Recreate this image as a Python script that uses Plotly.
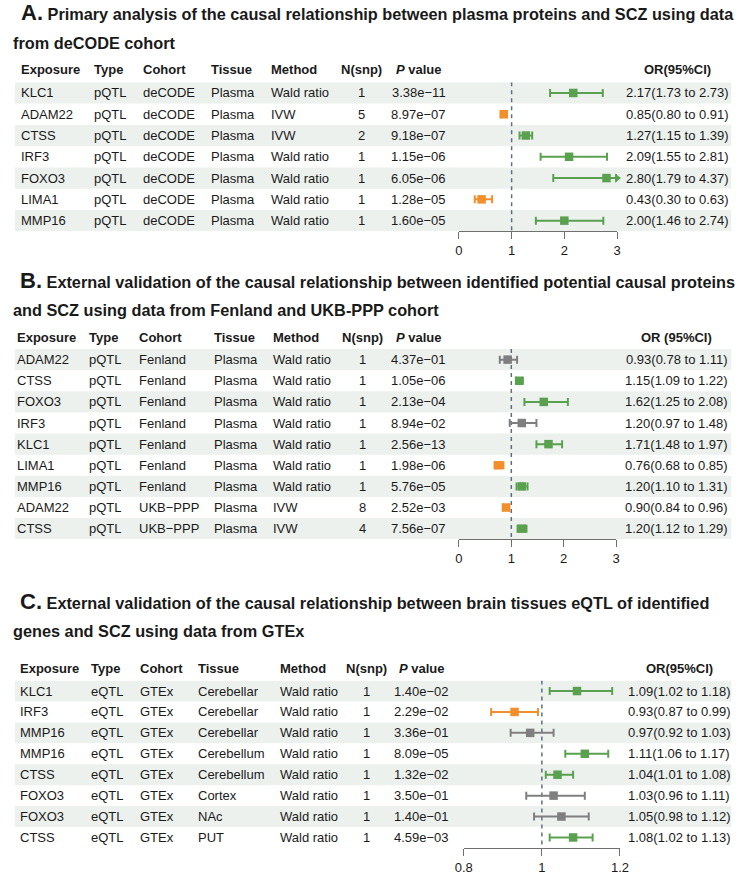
import plotly.graph_objects as go

W, H = 749, 875
FONT = "Arial, 'Liberation Sans', Helvetica, sans-serif"
GREEN, ORANGE, GREY = "#59A14F", "#F28E2B", "#7F7F7F"
BAND = "#EDF1EE"
TXT = "#1a1a1a"

# ---------------- Panel A data ----------------
a_exposure = ["KLC1", "ADAM22", "CTSS", "IRF3", "FOXO3", "LIMA1", "MMP16"]
a_type = ["pQTL"] * 7
a_cohort = ["deCODE"] * 7
a_tissue = ["Plasma"] * 7
a_method = ["Wald ratio", "IVW", "IVW", "Wald ratio", "Wald ratio", "Wald ratio", "Wald ratio"]
a_nsnp = [1, 5, 2, 1, 1, 1, 1]
a_pval = ["3.38e−11", "8.97e−07", "9.18e−07", "1.15e−06", "6.05e−06", "1.28e−05", "1.60e−05"]
a_or = [2.17, 0.85, 1.27, 2.09, 2.80, 0.43, 2.00]
a_lo = [1.73, 0.80, 1.15, 1.55, 1.79, 0.30, 1.46]
a_hi = [2.73, 0.91, 1.39, 2.81, 4.37, 0.63, 2.74]

# ---------------- Panel B data ----------------
b_exposure = ["ADAM22", "CTSS", "FOXO3", "IRF3", "KLC1", "LIMA1", "MMP16", "ADAM22", "CTSS"]
b_type = ["pQTL"] * 9
b_cohort = ["Fenland"] * 7 + ["UKB−PPP"] * 2
b_tissue = ["Plasma"] * 9
b_method = ["Wald ratio"] * 7 + ["IVW", "IVW"]
b_nsnp = [1, 1, 1, 1, 1, 1, 1, 8, 4]
b_pval = ["4.37e−01", "1.05e−06", "2.13e−04", "8.94e−02", "2.56e−13", "1.98e−06", "5.76e−05", "2.52e−03", "7.56e−07"]
b_or = [0.93, 1.15, 1.62, 1.20, 1.71, 0.76, 1.20, 0.90, 1.20]
b_lo = [0.78, 1.09, 1.25, 0.97, 1.48, 0.68, 1.10, 0.84, 1.12]
b_hi = [1.11, 1.22, 2.08, 1.48, 1.97, 0.85, 1.31, 0.96, 1.29]

# ---------------- Panel C data ----------------
c_exposure = ["KLC1", "IRF3", "MMP16", "MMP16", "CTSS", "FOXO3", "FOXO3", "CTSS"]
c_type = ["eQTL"] * 8
c_cohort = ["GTEx"] * 8
c_tissue = ["Cerebellar", "Cerebellar", "Cerebellar", "Cerebellum", "Cerebellum", "Cortex", "NAc", "PUT"]
c_method = ["Wald ratio"] * 8
c_nsnp = [1] * 8
c_pval = ["1.40e−02", "2.29e−02", "3.36e−01", "8.09e−05", "1.32e−02", "3.50e−01", "1.40e−01", "4.59e−03"]
c_or = [1.09, 0.93, 0.97, 1.11, 1.04, 1.03, 1.05, 1.08]
c_lo = [1.02, 0.87, 0.92, 1.06, 1.01, 0.96, 0.98, 1.02]
c_hi = [1.18, 0.99, 1.03, 1.17, 1.08, 1.11, 1.12, 1.13]

a_ticks = [0, 1, 2, 3]
b_ticks = [0, 1, 2, 3]
c_ticks = [0.8, 1.0, 1.2]
c_ticktext = ["0.8", "1", "1.2"]

panels = [
    dict(k="", letter="A.",
         line1="Primary analysis of the causal relationship between plasma proteins and SCZ using data",
         line2="from deCODE cohort", t1=13, t2=43, lx=10, l2x=2,
         rows=dict(exposure=a_exposure, type=a_type, cohort=a_cohort, tissue=a_tissue,
                   method=a_method, nsnp=a_nsnp, pval=a_pval),
         est=a_or, lo=a_lo, hi=a_hi, ticks=a_ticks, ticktext=[str(t) for t in a_ticks],
         row0=93.5, step=21.4, header=70, ax=(461, 623),
         cols=dict(exposure=10, type=85, cohort=135, tissue=205, method=266),
         nsnp_c=361, p_c=420, or_c=685, or_head="OR(95%CI)"),
    dict(k="2", letter="B.",
         line1="External validation of the causal relationship between identified potential causal proteins",
         line2="and SCZ using data from Fenland and UKB-PPP cohort", t1=282, t2=312, lx=9, l2x=2,
         rows=dict(exposure=b_exposure, type=b_type, cohort=b_cohort, tissue=b_tissue,
                   method=b_method, nsnp=b_nsnp, pval=b_pval),
         est=b_or, lo=b_lo, hi=b_hi, ticks=b_ticks, ticktext=[str(t) for t in b_ticks],
         row0=361.7, step=21.25, header=339, ax=(461, 622),
         cols=dict(exposure=6, type=80, cohort=131, tissue=208, method=268),
         nsnp_c=362, p_c=420, or_c=684, or_head="OR (95%CI)"),
    dict(k="3", letter="C.",
         line1="External validation of the causal relationship between brain tissues eQTL of identified",
         line2="genes and SCZ using data from GTEx", t1=605, t2=635, lx=9, l2x=2,
         rows=dict(exposure=c_exposure, type=c_type, cohort=c_cohort, tissue=c_tissue,
                   method=c_method, nsnp=c_nsnp, pval=c_pval),
         est=c_or, lo=c_lo, hi=c_hi, ticks=c_ticks, ticktext=c_ticktext,
         row0=695, step=21.04, header=672, ax=(466, 626),
         cols=dict(exposure=9, type=82, cohort=132, tissue=192, method=276),
         nsnp_c=366, p_c=423, or_c=687, or_head="OR(95%CI)"),
]

headers = dict(exposure="Exposure", type="Type", cohort="Cohort", tissue="Tissue", method="Method")


def px(x):
    return x / W


def py(y):
    return 1 - y / H


def colour(lo, hi):
    if lo > 1:
        return GREEN
    if hi < 1:
        return ORANGE
    return GREY


fig = go.Figure()
annotations = []
shapes = []
layout_axes = {}

for p in panels:
    k = p["k"]
    n = len(p["est"])
    top = p["row0"] - p["step"] / 2
    bottom = p["row0"] + (n - 0.5) * p["step"]
    xmin, xmax = p["ticks"][0], p["ticks"][-1]
    xa, ya = "x" + k, "y" + k
    layout_axes["xaxis" + k] = dict(
        domain=[px(p["ax"][0]), px(p["ax"][1])], range=[xmin, xmax], anchor=ya,
        showgrid=False, zeroline=False, showline=True, linecolor="#6f6f6f", linewidth=1,
        ticks="outside", ticklen=7, tickcolor="#6f6f6f", tickwidth=1,
        tickvals=p["ticks"], ticktext=p["ticktext"],
        tickfont=dict(family=FONT, size=13, color=TXT), fixedrange=True)
    layout_axes["yaxis" + k] = dict(
        domain=[py(bottom), py(top)], range=[n - 0.5, -0.5], anchor=xa,
        visible=False, showgrid=False, zeroline=False, fixedrange=True)

    # row bands
    for i in range(0, n, 2):
        shapes.append(dict(type="rect", xref="paper", yref=ya, x0=px(6), x1=px(740),
                           y0=i - 0.5, y1=i + 0.5, fillcolor=BAND, line=dict(width=0),
                           layer="below"))
    # reference line
    shapes.append(dict(type="line", xref=xa, yref=ya, x0=1, x1=1, y0=-0.5, y1=n - 0.5,
                       line=dict(color="#5f6f80", width=1.5, dash="4px,4px"), layer="below"))

    # titles
    annotations.append(dict(xref="paper", yref="paper", x=px(p["lx"]), y=py(p["t1"]),
                            xanchor="left", yanchor="middle", showarrow=False,
                            text="<b><span style='font-size:22px'>" + p["letter"] + "</span> "
                                 + p["line1"] + "</b>",
                            font=dict(family=FONT, size=16.3, color=TXT)))
    annotations.append(dict(xref="paper", yref="paper", x=px(p["l2x"]), y=py(p["t2"]),
                            xanchor="left", yanchor="middle", showarrow=False,
                            text="<b>" + p["line2"] + "</b>",
                            font=dict(family=FONT, size=16.3, color=TXT)))

    # header row
    hdr_font = dict(family=FONT, size=13, color=TXT)
    for key, lab in headers.items():
        annotations.append(dict(xref="paper", yref="paper", x=px(p["cols"][key]), y=py(p["header"]),
                                xanchor="left", yanchor="middle", showarrow=False,
                                text="<b>" + lab + "</b>", font=hdr_font))
    annotations.append(dict(xref="paper", yref="paper", x=px(p["nsnp_c"]), y=py(p["header"]),
                            xanchor="center", yanchor="middle", showarrow=False,
                            text="<b>N(snp)</b>", font=hdr_font))
    annotations.append(dict(xref="paper", yref="paper", x=px(p["p_c"]), y=py(p["header"]),
                            xanchor="center", yanchor="middle", showarrow=False,
                            text="<b><i>P</i> value</b>", font=hdr_font))
    annotations.append(dict(xref="paper", yref="paper", x=px(p["or_c"]), y=py(p["header"]),
                            xanchor="center", yanchor="middle", showarrow=False,
                            text="<b>" + p["or_head"] + "</b>", font=hdr_font))

    # table cells
    cell_font = dict(family=FONT, size=13, color=TXT)
    for i in range(n):
        for key in headers:
            annotations.append(dict(xref="paper", yref=ya, x=px(p["cols"][key]), y=i,
                                    xanchor="left", yanchor="middle", showarrow=False,
                                    text=str(p["rows"][key][i]), font=cell_font))
        annotations.append(dict(xref="paper", yref=ya, x=px(p["nsnp_c"]), y=i,
                                xanchor="center", yanchor="middle", showarrow=False,
                                text=str(p["rows"]["nsnp"][i]), font=cell_font))
        annotations.append(dict(xref="paper", yref=ya, x=px(p["p_c"]), y=i,
                                xanchor="center", yanchor="middle", showarrow=False,
                                text=p["rows"]["pval"][i], font=cell_font))
        annotations.append(dict(xref="paper", yref=ya, x=px(p["or_c"]), y=i,
                                xanchor="center", yanchor="middle", showarrow=False,
                                text=f"{p['est'][i]:.2f}({p['lo'][i]:.2f} to {p['hi'][i]:.2f})",
                                font=cell_font))

    # forest points grouped by colour
    for col in (GREEN, ORANGE, GREY):
        idx = [i for i in range(n) if colour(p["lo"][i], p["hi"][i]) == col]
        if not idx:
            continue
        xs = [p["est"][i] for i in idx]
        up = [min(p["hi"][i], xmax) - p["est"][i] for i in idx]
        dn = [p["est"][i] - max(p["lo"][i], xmin) for i in idx]
        fig.add_trace(go.Scatter(
            x=xs, y=idx, xaxis=xa, yaxis=ya, mode="markers", cliponaxis=False,
            marker=dict(symbol="square", size=8.5, color=col),
            error_x=dict(type="data", symmetric=False, array=up, arrayminus=dn,
                         color=col, thickness=2, width=4),
            showlegend=False, hoverinfo="skip"))
        # arrows for CIs that exceed the axis
        ar = [i for i in idx if p["hi"][i] > xmax]
        if ar:
            fig.add_trace(go.Scatter(
                x=[xmax for _ in ar], y=ar, xaxis=xa, yaxis=ya, mode="markers", cliponaxis=False,
                marker=dict(symbol="triangle-right", size=8, color=col),
                showlegend=False, hoverinfo="skip"))

fig.update_layout(
    width=W, height=H, margin=dict(l=0, r=0, t=0, b=0),
    paper_bgcolor="white", plot_bgcolor="rgba(0,0,0,0)",
    annotations=annotations, shapes=shapes, showlegend=False,
    font=dict(family=FONT, color=TXT),
    **layout_axes)

fig.write_html("out.html", config=dict(displayModeBar=False))
